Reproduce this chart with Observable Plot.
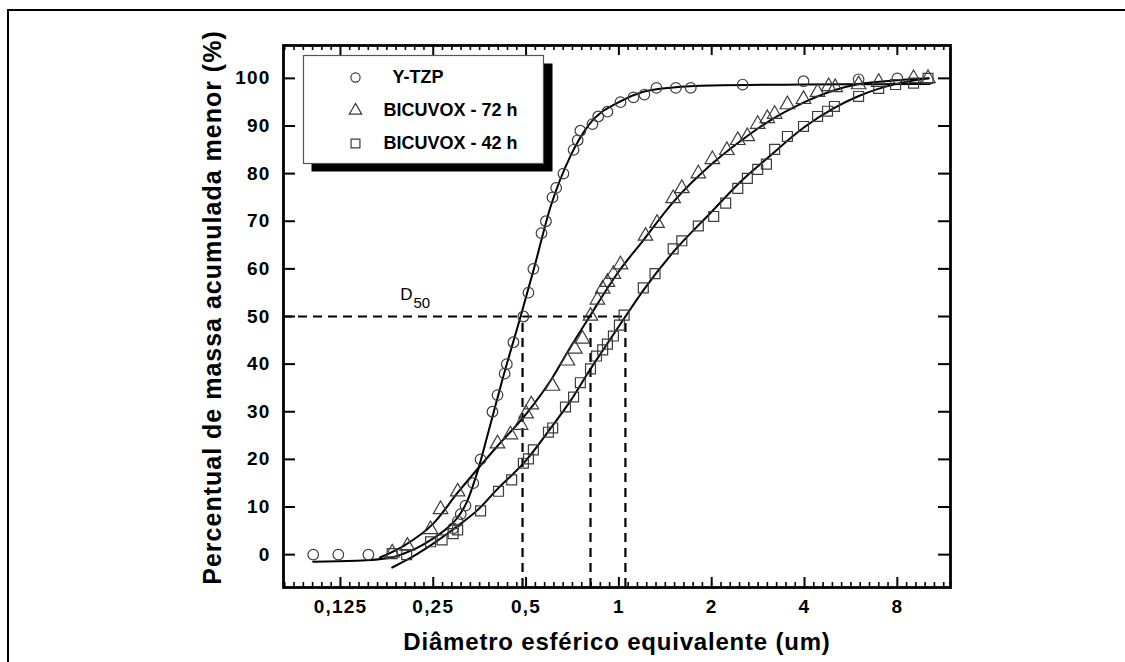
<!DOCTYPE html>
<html>
<head>
<meta charset="utf-8">
<script src="https://cdn.jsdelivr.net/npm/d3@7"></script>
<script src="https://cdn.jsdelivr.net/npm/@observablehq/plot@0.6"></script>
<style>
  body { margin: 0; background: #fff; }
  #wrap { position: relative; width: 1125px; height: 662px; overflow: hidden; background: #fff; }
  #border { position: absolute; left: 7px; top: 9px; width: 1140px; height: 680px;
            border-left: 2.5px solid #000; border-top: 2.5px solid #000; pointer-events: none; }
  svg text { font-family: "Liberation Sans", Arial, sans-serif; }
  g[aria-label="x-axis tick label"] text, g[aria-label="y-axis tick label"] text { letter-spacing: 1.2px; }
  .xtitle text { letter-spacing: 0.8px; }
  .ytitle text { letter-spacing: 1px; }
</style>
</head>
<body>
<div id="wrap"><div id="border"></div></div>
<script>
// ---- data ----
const seriesNames = ["Y-TZP", "BICUVOX - 72 h", "BICUVOX - 42 h"];

const ytzpX = [0.102,0.123,0.154,0.29,0.30,0.307,0.318,0.337,0.356,0.389,0.404,0.426,0.433,0.455,0.49,0.509,0.528,0.561,0.58,0.609,0.626,0.661,0.713,0.735,0.75,0.821,0.857,0.918,1.012,1.115,1.21,1.324,1.53,1.71,2.52,3.97,5.99,8.0];
const ytzpY = [0,0,0,5.5,7,8.5,10.3,15,20,30,33.5,38,40,44.6,50,55,60,67.5,70,75,77,80,85,87,89,90.4,92,93,95,96,96.6,98,98,98,98.7,99.4,99.8,100];

const b72X = [0.184,0.206,0.245,0.264,0.30,0.404,0.445,0.48,0.50,0.52,0.609,0.681,0.72,0.762,0.809,0.852,0.886,0.918,0.96,1.012,1.22,1.33,1.50,1.60,1.81,2.01,2.24,2.43,2.61,2.82,3.03,3.2,3.52,3.97,4.41,4.79,5.03,5.99,6.96,9.03,10.06];
const b72Y = [0.4,1.8,5.3,9.5,13.2,23.3,25.2,27.2,29.6,31.5,35.4,40.7,43.2,45.3,50.1,53.5,55.8,57.2,58.9,60.9,66.9,69.6,74.8,76.9,80,83,84.9,87,87.8,90.4,91.6,92.5,94.5,95.6,97.1,98.3,98.1,98.7,99.2,100,100];

const b42X = [0.184,0.205,0.245,0.267,0.29,0.30,0.356,0.407,0.449,0.49,0.509,0.528,0.591,0.61,0.671,0.713,0.75,0.809,0.846,0.886,0.918,0.96,1.004,1.04,1.20,1.31,1.50,1.60,1.81,2.03,2.22,2.43,2.61,2.82,3.01,3.2,3.52,3.97,4.41,4.75,5.0,5.99,6.96,7.9,9.03,10.06];
const b42Y = [0.2,0,2.7,3.1,4.4,5.2,9.2,13.3,15.7,19.2,20.1,22,25.7,26.6,31,33.1,36.1,39,41.7,43,44.2,45.9,48.2,50.3,56,59,64.2,65.9,69,71,73.8,76.9,79,80.9,82,85.1,87.8,89.9,92,93.1,94.1,96.2,97.9,98.7,99,100];

// fitted curves
const fitYtzpX = [0.102,0.14,0.18,0.2,0.22,0.25,0.28,0.30,0.32,0.35,0.38,0.42,0.48,0.53,0.6,0.7,0.8,1.0,1.2,1.5,2,4,10.2];
const fitYtzpY = [-1.5,-1.3,-0.7,0.2,1.3,3.4,5.8,7.8,10.8,18,26.5,37,50,60,73,84,90.3,95,97.2,98.1,98.5,98.7,98.8];
const fit72X = [0.168,0.2,0.25,0.3,0.4,0.5,0.6,0.7,0.8,1.0,1.2,1.5,2.0,2.5,3,4,5,6,8,10.1];
const fit72Y = [-0.6,1.8,6.5,13,22.5,29.5,36.5,43.8,49.8,59.5,66,74,82,87,90.6,95,97.5,98.8,99.6,100];
const fit42X = [0.184,0.22,0.25,0.3,0.35,0.4,0.5,0.6,0.7,0.8,0.9,1.05,1.2,1.5,2,2.5,3,4,5,6,8,10.1];
const fit42Y = [-2.7,0,2.3,6,9.5,13.5,19.8,26.5,32.5,38.5,43.5,50,55.5,63.5,72,78.5,83,89.8,93.8,96.3,98.9,100];

// D50 values
const d50X = [0.487, 0.809, 1.05];
const d50Y = 50;

// axes
const xTickValues = [0.125, 0.25, 0.5, 1, 2, 4, 8];
const xTickLabels = ["0,125", "0,25", "0,5", "1", "2", "4", "8"];
const yTickValues = [0, 10, 20, 30, 40, 50, 60, 70, 80, 90, 100];
const xDomain = [0.0817, 11.9];
const yDomain = [-6.9, 106.9];
const xTitle = "Diâmetro esférico equivalente (um)";
const yTitle = "Percentual de massa acumulada menor (%)";

// ---- build ----
const toRows = (xs, ys) => xs.map((x, i) => ({x, y: ys[i]}));
const ytzp = toRows(ytzpX, ytzpY), b72 = toRows(b72X, b72Y), b42 = toRows(b42X, b42Y);
const fits = [toRows(fitYtzpX, fitYtzpY), toRows(fit72X, fit72Y), toRows(fit42X, fit42Y)];

const xMinor = [];
for (let e = -4; e <= 4; e++) for (let k = 1; k < 10; k++) {
  const v = Math.pow(2, e + k / 10);
  if (v > xDomain[0] && v < xDomain[1]) xMinor.push(v);
}
const xMajorIn = xTickValues.filter(v => v > xDomain[0] && v < xDomain[1]);

const W = 1125, H = 662, mL = 283, mR = 175, mT = 45, mB = 75;
const pw = W - mL - mR, ph = H - mT - mB;
const symbols = ["circle", "triangle", "square"];
const dotStroke = "#3c3c3c";
const font = "Liberation Sans, Arial, sans-serif";

const marks = [
  // D50 dashed guides
  Plot.ruleY([d50Y], {x1: xDomain[0], x2: d3.max(d50X), stroke: "#000", strokeWidth: 2.2, strokeDasharray: "9,6"}),
  Plot.ruleX(d50X, {y1: yDomain[0], y2: d50Y, stroke: "#000", strokeWidth: 2.2, strokeDasharray: "9,6"}),
  // fitted lines
  ...fits.map(f => Plot.line(f, {x: "x", y: "y", curve: "monotone-x", stroke: "#000", strokeWidth: 2})),
  // data points
  Plot.dot(ytzp, {x: "x", y: "y", symbol: "circle", r: 5.3, stroke: dotStroke, strokeWidth: 1.2, fill: "none"}),
  Plot.dot(b72, {x: "x", y: "y", symbol: "triangle", r: 5.4, stroke: dotStroke, strokeWidth: 1.2, fill: "none"}),
  Plot.dot(b42, {x: "x", y: "y", symbol: "square", r: 5.6, stroke: dotStroke, strokeWidth: 1.2, fill: "none"}),
  // inward ticks
  Plot.tickX(xMajorIn, {x: d => d, insetTop: ph - 10, stroke: "#000", strokeWidth: 2}),
  Plot.tickX(xMinor, {x: d => d, insetTop: ph - 5, stroke: "#000", strokeWidth: 1.6}),
  Plot.tickX(xMajorIn, {x: d => d, insetBottom: ph - 10, stroke: "#000", strokeWidth: 2}),
  Plot.tickX(xMinor, {x: d => d, insetBottom: ph - 5, stroke: "#000", strokeWidth: 1.6}),
  Plot.tickY(yTickValues, {y: d => d, insetRight: pw - 12, stroke: "#000", strokeWidth: 2}),
  Plot.tickY(yTickValues, {y: d => d, insetLeft: pw - 12, stroke: "#000", strokeWidth: 2}),
  Plot.frame({stroke: "#000", strokeWidth: 2.8}),
  // axis labels
  Plot.axisX({anchor: "bottom", ticks: xTickValues, tickSize: 0, tickPadding: 12, label: null,
    tickFormat: d => xTickLabels[xTickValues.indexOf(d)], fontSize: 19, fontWeight: "bold", fill: "#000"}),
  Plot.axisY({anchor: "left", ticks: yTickValues, tickSize: 0, tickPadding: 13, label: null,
    fontSize: 19, fontWeight: "bold", fill: "#000"}),
  Plot.text([xTitle], {frameAnchor: "bottom", dy: 55, text: d => d, fontSize: 24, fontWeight: "bold",
    lineAnchor: "middle", fill: "#000", className: "xtitle"}),
  Plot.text([yTitle], {frameAnchor: "left", dx: -71, dy: -9, rotate: -90, text: d => d, fontSize: 25,
    fontWeight: "bold", textAnchor: "middle", lineAnchor: "middle", fill: "#000", className: "ytitle"}),
  // D50 label
  Plot.text(["D"], {frameAnchor: "top-left", dx: 129, dy: 249, text: d => d, textAnchor: "end", fontSize: 17, lineAnchor: "middle", fill: "#000"}),
  Plot.text(["50"], {frameAnchor: "top-left", dx: 130, dy: 258, text: d => d, textAnchor: "start", fontSize: 15, lineAnchor: "middle", fill: "#000"}),
  // legend box with shadow
  Plot.frame({fill: "#000", stroke: "none", insetLeft: 28, insetTop: 18, insetRight: 950 - 552, insetBottom: 587 - 171}),
  Plot.frame({fill: "#fff", stroke: "#555", strokeWidth: 1.2, insetLeft: 20, insetTop: 10, insetRight: 950 - 543, insetBottom: 587 - 163})
];
seriesNames.forEach((name, i) => {
  const dy = 32 + i * 33;
  marks.push(Plot.dot([name], {frameAnchor: "top-left", dx: 72, dy, symbol: symbols[i], r: i === 2 ? 5 : 4.6,
    stroke: dotStroke, strokeWidth: 1.2, fill: "none"}));
  marks.push(Plot.text([name], {frameAnchor: "top-left", dx: i === 0 ? 109 : 100, dy, text: d => d, textAnchor: "start",
    lineAnchor: "middle", fontSize: 18, fontWeight: "bold", fill: "#000"}));
});

const chart = Plot.plot({
  width: W, height: H,
  marginLeft: mL, marginRight: mR, marginTop: mT, marginBottom: mB,
  x: {type: "log", base: 2, domain: xDomain},
  y: {domain: yDomain},
  style: {fontFamily: font, background: "#fff", color: "#000"},
  marks
});
const wrap = document.getElementById("wrap");
wrap.insertBefore(chart, wrap.firstChild);
</script>
</body>
</html>
